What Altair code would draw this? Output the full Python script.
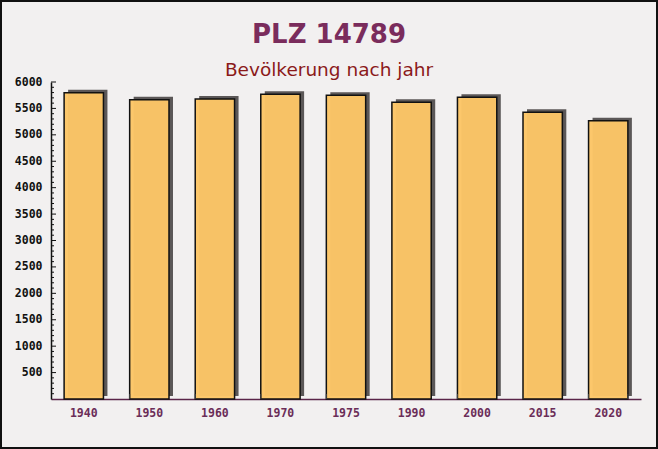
import altair as alt
import pandas as pd

years = ["1940", "1950", "1960", "1970", "1975", "1990", "2000", "2015", "2020"]
population = [5797, 5665, 5680, 5766, 5747, 5616, 5710, 5426, 5268]
y_label_values = [500, 1000, 1500, 2000, 2500, 3000, 3500, 4000, 4500, 5000, 5500, 6000]
minor_tick_values = [v for v in range(100, 6001, 100) if v % 500 != 0]

title_text = "PLZ 14789"
subtitle_text = "Bevölkerung nach jahr"

df = pd.DataFrame({"jahr": years, "einwohner": population})
major_df = pd.DataFrame({"v": y_label_values})
minor_df = pd.DataFrame({"v": minor_tick_values})

W, H = 590, 317

xscale = alt.Scale(domain=years, paddingInner=0.4, paddingOuter=0.2)
yscale = alt.Scale(domain=[0, 6000], nice=False, zero=True)

base = alt.Chart(df)

xaxis = alt.Axis(
    title=None, labelAngle=0, ticks=False, domainColor="#5a2448", domainWidth=1.5,
    labelFont="DejaVu Sans Mono", labelFontWeight="bold", labelFontSize=11.5,
    labelColor="#6b2d58", labelPadding=8, grid=False,
)
yaxis = alt.Axis(
    title=None, values=y_label_values, format="d", labelOverlap=False, ticks=False,
    domainColor="#111111", domainWidth=1.5,
    labelFont="DejaVu Sans Mono", labelFontWeight="bold", labelFontSize=11.5,
    labelColor="#111111", labelPadding=9, grid=False,
)

shadow = base.mark_bar(
    color="#5b5757", xOffset=4, x2Offset=4, yOffset=-3, y2Offset=-3
).encode(
    x=alt.X("jahr:N", scale=xscale, axis=xaxis, sort=years),
    y=alt.Y("einwohner:Q", scale=yscale, axis=yaxis),
)

bars = base.mark_bar(
    fill="#fcc566", fillOpacity=0.97, stroke="#111111", strokeWidth=1.5
).encode(
    x=alt.X("jahr:N", scale=xscale, axis=xaxis, sort=years),
    y=alt.Y("einwohner:Q", scale=yscale, axis=yaxis),
)

yticks_major = alt.Chart(major_df).mark_rule(color="#111111", strokeWidth=1).encode(
    y=alt.Y("v:Q", scale=yscale, axis=yaxis), x=alt.value(0), x2=alt.value(5),
)
yticks_minor = alt.Chart(minor_df).mark_rule(color="#111111", strokeWidth=1).encode(
    y=alt.Y("v:Q", scale=yscale, axis=yaxis), x=alt.value(0), x2=alt.value(3),
)

xticks = base.transform_filter(alt.datum.jahr != "1940").mark_rule(
    color="#444444", strokeWidth=1
).encode(
    x=alt.X("jahr:N", scale=xscale, axis=xaxis, bandPosition=0),
    y=alt.value(H - 5),
    y2=alt.value(H),
)
xticks_end = base.transform_filter(alt.datum.jahr == "2020").mark_rule(
    color="#444444", strokeWidth=1
).encode(
    x=alt.X("jahr:N", scale=xscale, axis=xaxis, bandPosition=1),
    y=alt.value(H - 5),
    y2=alt.value(H),
)

title = alt.Chart(pd.DataFrame({"t": [title_text]})).mark_text(
    font="DejaVu Sans", fontWeight="bold", fontSize=26, color="#7a2c5c",
    align="center", baseline="alphabetic"
).encode(text="t:N", x=alt.value(278), y=alt.value(-39))

subtitle = alt.Chart(pd.DataFrame({"t": [subtitle_text]})).mark_text(
    font="DejaVu Sans", fontSize=18.5, color="#8b1a1a",
    align="center", baseline="alphabetic"
).encode(text="t:N", x=alt.value(278), y=alt.value(-6))

border = alt.Chart(pd.DataFrame({"a": [0]})).mark_rect(
    filled=False, stroke="#111111", strokeWidth=2
).encode(
    x=alt.value(-50), x2=alt.value(606), y=alt.value(-81), y2=alt.value(366)
)

chart = alt.layer(
    shadow, bars, yticks_major, yticks_minor, xticks, xticks_end, title, subtitle, border
).properties(
    width=W, height=H,
    autosize=alt.AutoSizeParams(type="none"),
    padding={"left": 51, "top": 82, "right": 17, "bottom": 50},
    background="#f2f0f0",
).configure_view(stroke=None)

chart.save("out.html", embed_options={"renderer": "svg", "actions": False})
